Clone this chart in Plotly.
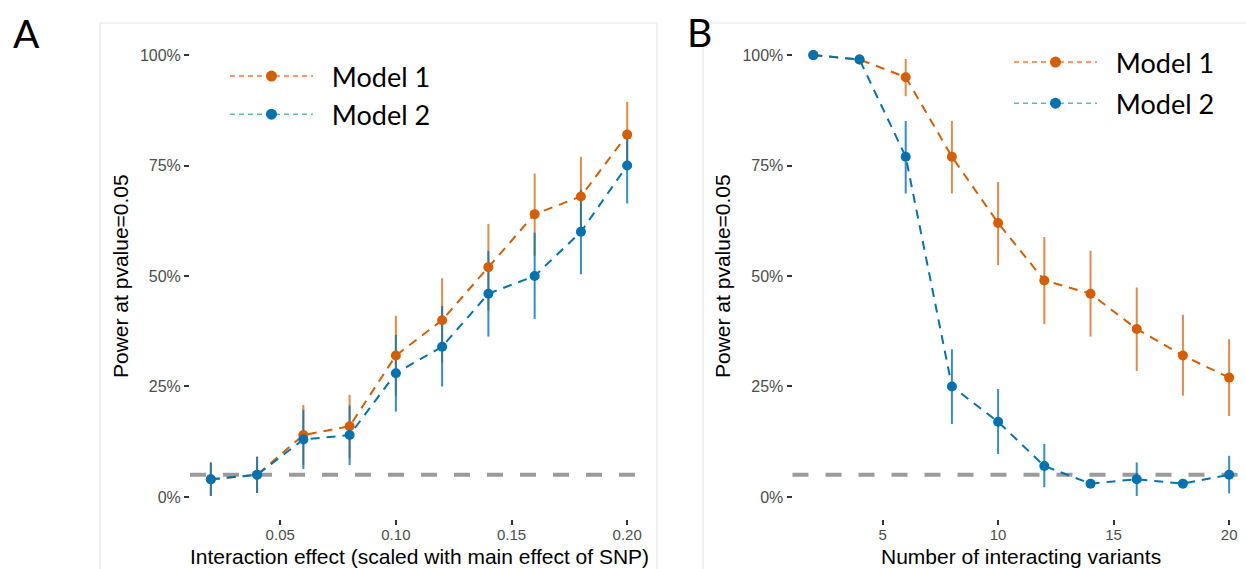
import plotly.graph_objects as go

# ---------------- data (percent) ----------------
effect = [0.02, 0.04, 0.06, 0.08, 0.10, 0.12, 0.14, 0.16, 0.18, 0.20]
a_m1 = [4, 5, 14, 16, 32, 40, 52, 64, 68, 82]
a_m1_lo = [0.2, 0.9, 7.2, 8.8, 22.9, 30.4, 42.2, 54.6, 58.9, 74.5]
a_m1_hi = [7.8, 9.1, 20.8, 23.1, 41.0, 49.5, 61.8, 73.2, 77.0, 89.4]
a_m2 = [4, 5, 13, 14, 28, 34, 46, 50, 60, 75]
a_m2_lo = [0.2, 0.9, 6.3, 7.2, 19.3, 25.0, 36.3, 40.3, 50.4, 66.4]
a_m2_hi = [7.8, 9.1, 19.7, 20.7, 36.7, 43.2, 55.7, 59.8, 69.5, 83.0]

variants = [2, 4, 6, 8, 10, 12, 14, 16, 18, 20]
b_m1 = [100, 99, 95, 77, 62, 49, 46, 38, 32, 27]
b_m1_lo = [100, 99, 90.7, 68.7, 52.5, 39.1, 36.3, 28.5, 22.9, 18.3]
b_m1_hi = [100, 99, 99.1, 85.1, 71.3, 58.8, 55.7, 47.4, 41.2, 35.7]
b_m2 = [100, 99, 77, 25, 17, 7, 3, 4, 3, 5]
b_m2_lo = [100, 99, 68.7, 16.5, 9.7, 2.2, 3, 0.2, 3, 0.8]
b_m2_hi = [100, 99, 85.1, 33.4, 24.4, 12.0, 3, 7.8, 3, 9.3]

threshold = 5
series_names = ["Model 1", "Model 2"]
y_ticks = [0, 25, 50, 75, 100]
y_tick_labels = ["0%", "25%", "50%", "75%", "100%"]
a_xticks = [0.05, 0.10, 0.15, 0.20]
a_xtick_labels = ["0.05", "0.10", "0.15", "0.20"]
b_xticks = [5, 10, 15, 20]

# ---------------- style ----------------
W, H = 1246, 569
ORANGE = "#D55E00"
BLUE = "#0072B2"
ORANGE_BAR = "rgba(213,94,0,0.72)"
BLUE_BAR = "rgba(0,114,178,0.80)"
LEG_LINE = ["#EC7A3C", "#56C29C"]
AXFONT = "Liberation Sans, Arial, sans-serif"
LEGFONT = "Lato, Open Sans, sans-serif"
PAD = "\u00a0\u00a0"

fig = go.Figure()


def add_panel(x, series, xa, ya):
    # error bars first (drawn beneath lines & points)
    for (vals, lo, hi), col in zip(series, [ORANGE_BAR, BLUE_BAR]):
        fig.add_trace(go.Scatter(
            x=x, y=vals, mode="markers", xaxis=xa, yaxis=ya,
            marker=dict(size=1, opacity=0), showlegend=False, hoverinfo="skip",
            error_y=dict(type="data", symmetric=False,
                         array=[h - v for v, h in zip(vals, hi)],
                         arrayminus=[v - l for v, l in zip(vals, lo)],
                         color=col, thickness=2, width=0)))
    for (vals, lo, hi), col, name in zip(series, [ORANGE, BLUE], series_names):
        fig.add_trace(go.Scatter(
            x=x, y=vals, mode="lines+markers", name=name, xaxis=xa, yaxis=ya,
            line=dict(color=col, width=2, dash="9px,7px"),
            marker=dict(color=col, size=10), showlegend=False))


add_panel(effect, [(a_m1, a_m1_lo, a_m1_hi), (a_m2, a_m2_lo, a_m2_hi)], "x", "y")
add_panel(variants, [(b_m1, b_m1_lo, b_m1_hi), (b_m2, b_m2_lo, b_m2_hi)], "x2", "y2")

# legend-only entries
for leg in ["legend", "legend2"]:
    for name, mcol, lcol in zip(series_names, [ORANGE, BLUE], LEG_LINE):
        fig.add_trace(go.Scatter(
            x=[None], y=[None], mode="lines+markers", name=PAD + name, legend=leg,
            legendgroup=leg + name, xaxis="x", yaxis="y",
            line=dict(color=lcol, width=1.5, dash="5px,4px"),
            marker=dict(color=mcol, size=11)))

# threshold lines
for xr, yr in [("x domain", "y"), ("x2 domain", "y2")]:
    fig.add_shape(type="line", xref=xr, yref=yr, x0=0, x1=1, y0=threshold, y1=threshold,
                  line=dict(color="#9B9B9B", width=4, dash="16px,17px"), layer="below")

# panel frames
fcol = "#E3E3E3"
ytop = 1 - 23 / H
for x0, x1 in [(100 / W, 657 / W), (703 / W, 1.0)]:
    fig.add_shape(type="line", xref="paper", yref="paper", x0=x0, x1=x0, y0=0, y1=ytop,
                  line=dict(color=fcol, width=1))
    fig.add_shape(type="line", xref="paper", yref="paper", x0=x0, x1=x1, y0=ytop, y1=ytop,
                  line=dict(color=fcol, width=1))
fig.add_shape(type="line", xref="paper", yref="paper", x0=657 / W, x1=657 / W, y0=0, y1=ytop,
              line=dict(color=fcol, width=1))

ydom = [1 - 519 / H, 1 - 33 / H]
common = dict(showgrid=False, zeroline=False, showline=False, ticks="outside", ticklen=5,
              tickwidth=1.5, tickcolor="#333333",
              tickfont=dict(family=AXFONT, size=16, color="#4D4D4D"))
common_x = dict(common, tickfont=dict(family=AXFONT, size=15, color="#4D4D4D"),
                ticklabelstandoff=-3)
common_y = dict(common, range=[-5, 105], tickvals=y_ticks, ticktext=y_tick_labels,
                domain=ydom)

fig.update_layout(
    width=W, height=H, margin=dict(l=0, r=0, t=0, b=0),
    paper_bgcolor="white", plot_bgcolor="white",
    xaxis=dict(common_x, domain=[190 / W, 648 / W], range=[0.011, 0.209],
               tickvals=a_xticks, ticktext=a_xtick_labels, anchor="y"),
    yaxis=dict(common_y, anchor="x"),
    xaxis2=dict(common_x, domain=[792.5 / W, 1.0], range=[1.1, 20.73],
                tickvals=b_xticks, anchor="y2"),
    yaxis2=dict(common_y, anchor="x2"),
    legend=dict(x=225 / W, y=1 - 52 / H, xanchor="left", yanchor="top",
                bgcolor="rgba(0,0,0,0)", itemwidth=83, tracegroupgap=0,
                font=dict(family=LEGFONT, size=27, color="black")),
    legend2=dict(x=1009 / W, y=1 - 38 / H, xanchor="left", yanchor="top",
                 bgcolor="rgba(0,0,0,0)", itemwidth=83, tracegroupgap=3,
                 font=dict(family=LEGFONT, size=27, color="black")),
    showlegend=True,
)

ann = [
    dict(text="A", x=11 / W, y=1 - 33 / H, xanchor="left", yanchor="middle"),
    dict(text="B", x=685 / W, y=1 - 32 / H, xanchor="left", yanchor="middle"),
]
for a in ann:
    a.update(xref="paper", yref="paper", showarrow=False,
             font=dict(family=LEGFONT, size=39, color="black"))
titles = [
    dict(text="Interaction effect (scaled with main effect of SNP)", x=419 / W, y=0,
         yanchor="bottom"),
    dict(text="Number of interacting variants", x=1021 / W, y=0, yanchor="bottom"),
    dict(text="Power at pvalue=0.05", x=120 / W, y=1 - 276 / H, textangle=-90,
         yanchor="middle"),
    dict(text="Power at pvalue=0.05", x=722 / W, y=1 - 276 / H, textangle=-90,
         yanchor="middle"),
]
for t in titles:
    t.update(xref="paper", yref="paper", showarrow=False, xanchor="center", borderpad=0,
             font=dict(family=AXFONT, size=21, color="black"))
fig.update_layout(annotations=ann + titles)

fig.write_html("out.html", config={"displayModeBar": False},
               post_script="document.body.style.margin='0';")
